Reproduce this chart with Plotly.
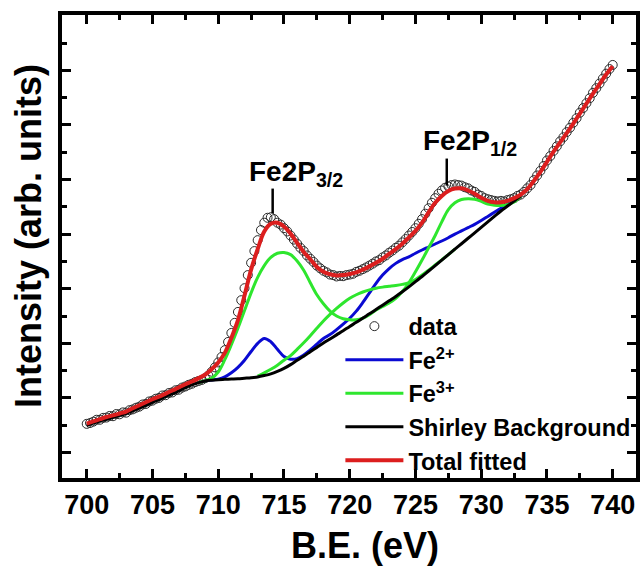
import numpy as np
import plotly.graph_objects as go

# ---------------- data ----------------
# measured data points, B.E. from 700 to 740 eV every 0.25 eV
data_be = np.round(np.arange(700.0, 740.001, 0.25), 2)
data_int = [
    2.05, 2.08, 2.13, 2.20, 2.20, 2.27, 2.28, 2.34,
    2.33, 2.41, 2.40, 2.47, 2.46, 2.55, 2.58, 2.64,
    2.68, 2.76, 2.78, 2.87, 2.90, 2.97, 3.00, 3.09,
    3.10, 3.18, 3.20, 3.28, 3.30, 3.38, 3.42, 3.48,
    3.52, 3.58, 3.62, 3.66, 3.72, 3.82, 3.96, 4.12,
    4.30, 4.50, 4.75, 5.05, 5.38, 5.75, 6.15, 6.58,
    7.02, 7.50, 7.95, 8.38, 8.78, 9.15, 9.42, 9.60,
    9.62, 9.55, 9.42, 9.35, 9.22, 9.10, 8.95, 8.80,
    8.65, 8.50, 8.38, 8.22, 8.10, 7.98, 7.85, 7.75,
    7.66, 7.60, 7.52, 7.50, 7.45, 7.47, 7.46, 7.50,
    7.52, 7.55, 7.62, 7.66, 7.72, 7.78, 7.85, 7.92,
    8.00, 8.05, 8.15, 8.22, 8.32, 8.40, 8.50, 8.58,
    8.70, 8.82, 8.95, 9.08, 9.22, 9.38, 9.55, 9.75,
    9.95, 10.15, 10.32, 10.48, 10.60, 10.70, 10.75, 10.80,
    10.82, 10.80, 10.78, 10.72, 10.68, 10.60, 10.55, 10.45,
    10.40, 10.32, 10.28, 10.25, 10.22, 10.20, 10.22, 10.20,
    10.25, 10.28, 10.32, 10.40, 10.45, 10.55, 10.68, 10.80,
    10.98, 11.15, 11.32, 11.50, 11.70, 11.86, 12.05, 12.22,
    12.40, 12.55, 12.74, 12.90, 13.08, 13.25, 13.45, 13.62,
    13.80, 13.98, 14.18, 14.35, 14.52, 14.70, 14.88, 15.05,
    15.20,
]

# total fitted envelope, 700..740 every 0.5 eV
fit_be = np.round(np.arange(700.0, 740.001, 0.5), 2)
total_fit = [
    2.06, 2.14, 2.22, 2.30, 2.36, 2.43, 2.50, 2.62,
    2.73, 2.84, 2.95, 3.05, 3.16, 3.27, 3.38, 3.50,
    3.60, 3.72, 3.85, 4.05, 4.30, 4.65, 5.20, 5.85,
    6.75, 7.70, 8.45, 9.10, 9.38, 9.42, 9.28, 9.02,
    8.68, 8.35, 8.08, 7.80, 7.62, 7.53, 7.49, 7.50,
    7.54, 7.60, 7.70, 7.82, 7.95, 8.10, 8.28, 8.45,
    8.65, 8.88, 9.12, 9.42, 9.80, 10.15, 10.40, 10.58,
    10.67, 10.68, 10.60, 10.48, 10.33, 10.22, 10.17, 10.17,
    10.22, 10.32, 10.45, 10.65, 10.95, 11.28, 11.65, 12.02,
    12.36, 12.70, 13.05, 13.42, 13.78, 14.15, 14.50, 14.85,
    15.15,
]

# Shirley background, 700..733 every 0.5 eV
shirley_be = np.round(np.arange(700.0, 733.001, 0.5), 2)
shirley = [
    2.00, 2.08, 2.15, 2.22, 2.29, 2.36, 2.43, 2.53,
    2.63, 2.73, 2.84, 2.94, 3.05, 3.15, 3.26, 3.38,
    3.48, 3.56, 3.62, 3.65, 3.67, 3.68, 3.69, 3.70,
    3.72, 3.74, 3.77, 3.82, 3.88, 3.97, 4.08, 4.22,
    4.38, 4.53, 4.69, 4.85, 5.01, 5.16, 5.31, 5.46,
    5.62, 5.77, 5.93, 6.08, 6.24, 6.40, 6.56, 6.72,
    6.89, 7.07, 7.26, 7.45, 7.65, 7.85, 8.05, 8.25,
    8.45, 8.65, 8.85, 9.05, 9.25, 9.45, 9.65, 9.85,
    10.03, 10.21, 10.40,
]

# Fe2+ component, 709..733 every 0.5 eV
fe2_be = np.round(np.arange(709.0, 733.001, 0.5), 2)
fe2 = [
    3.63, 3.66, 3.69, 3.77, 3.92, 4.12, 4.38, 4.70,
    5.00, 5.18, 5.06, 4.78, 4.52, 4.42, 4.44, 4.57,
    4.76, 4.97, 5.18, 5.32, 5.50, 5.70, 5.92, 6.18,
    6.50, 6.85, 7.20, 7.50, 7.74, 7.93, 8.07, 8.17,
    8.30, 8.42, 8.53, 8.64, 8.75, 8.87, 9.00, 9.12,
    9.24, 9.36, 9.50, 9.65, 9.80, 9.95, 10.10, 10.26,
    10.42,
]

# Fe3+ component (main 2p3/2 + 2p1/2 curve), 708.5..733 every 0.5 eV
fe3a_be = np.round(np.arange(708.5, 733.001, 0.5), 2)
fe3a = [
    3.56, 3.63, 3.72, 3.95, 4.40, 4.95, 5.55, 6.20,
    6.85, 7.42, 7.85, 8.15, 8.30, 8.33, 8.25, 8.02,
    7.68, 7.22, 6.78, 6.45, 6.18, 6.00, 5.90, 5.86,
    5.86, 5.92, 6.05, 6.22, 6.35, 6.48, 6.65, 6.90,
    7.22, 7.62, 8.05, 8.50, 8.95, 9.45, 9.90, 10.15,
    10.27, 10.30, 10.28, 10.20, 10.10, 10.06, 10.05, 10.08,
    10.18, 10.40,
]

# Fe3+ component (second curve), 713..728 every 0.5 eV
fe3b_be = np.round(np.arange(713.0, 728.001, 0.5), 2)
fe3b = [
    3.80, 3.92, 4.05, 4.20, 4.38, 4.55, 4.78, 5.02,
    5.28, 5.55, 5.82, 6.06, 6.28, 6.48, 6.65, 6.78,
    6.88, 6.96, 7.02, 7.06, 7.09, 7.12, 7.16, 7.22,
    7.34, 7.50, 7.68, 7.87, 8.06, 8.25, 8.45,
]

x_ticks = [700, 705, 710, 715, 720, 725, 730, 735, 740]

# peak labels: text, text anchor (x, y), marker line (x, y0, y1)
peak_text = ["Fe2P<sub>3/2</sub>", "Fe2P<sub>1/2</sub>"]
peak_text_x = [712.2, 725.4]
peak_text_y = [11.22, 12.37]
peak_line_x = [714.14, 727.38]
peak_line_y0 = [9.76, 10.78]
peak_line_y1 = [10.67, 11.77]

# ---------------- styling ----------------
FONT = "Liberation Sans, Arial, Helvetica, sans-serif"
RED = "#dc1e1e"
GREEN = "#2ee62e"
BLUE = "#0a0ad2"
BLACK = "#000000"

W, H = 640, 566
L, R, T, B = 62, 4, 15, 88
pw, ph = W - L - R, H - T - B

fig = go.Figure()

fig.add_trace(go.Scatter(
    x=data_be, y=data_int, mode="markers", name="data",
    marker=dict(symbol="circle-open", size=9, color="#2a2a2a", line=dict(width=1)),
    legendgroup="g1",
))
fig.add_trace(go.Scatter(
    x=fe2_be, y=fe2, mode="lines", name="Fe<sup>2+</sup>",
    line=dict(color=BLUE, width=3, shape="spline"), legendgroup="g2",
))
fig.add_trace(go.Scatter(
    x=fe3a_be, y=fe3a, mode="lines", name="Fe<sup>3+</sup>",
    line=dict(color=GREEN, width=3, shape="spline"), legendgroup="g3",
))
fig.add_trace(go.Scatter(
    x=fe3b_be, y=fe3b, mode="lines", name="Fe<sup>3+</sup>",
    line=dict(color=GREEN, width=3, shape="spline"), legendgroup="g3",
    showlegend=False,
))
fig.add_trace(go.Scatter(
    x=shirley_be, y=shirley, mode="lines", name="Shirley Background",
    line=dict(color=BLACK, width=3, shape="spline"), legendgroup="g4",
))
fig.add_trace(go.Scatter(
    x=fit_be, y=total_fit, mode="lines", name="Total fitted",
    line=dict(color=RED, width=4, shape="spline"), legendgroup="g5",
))

for t, tx, ty in zip(peak_text, peak_text_x, peak_text_y):
    fig.add_annotation(
        x=tx, y=ty, xref="x", yref="y", text=t, showarrow=False,
        xanchor="left", yanchor="middle",
        font=dict(family=FONT, size=28, color="black", weight="bold"),
    )
for lx, y0, y1 in zip(peak_line_x, peak_line_y0, peak_line_y1):
    fig.add_shape(type="line", xref="x", yref="y", x0=lx, x1=lx, y0=y0, y1=y1,
                  line=dict(color="black", width=2.5))

# axis titles (placed as in the reference, slightly off-centre), pixel -> paper
xt_px, yt_px = (365, 545), (28, 236)
fig.add_annotation(
    x=(xt_px[0] - L) / pw, y=(H - B - xt_px[1]) / ph, xref="paper", yref="paper",
    xanchor="center", yanchor="middle",
    text="B.E. (eV)", showarrow=False,
    font=dict(family=FONT, size=36, color="black", weight="bold"),
)
fig.add_annotation(
    x=(yt_px[0] - L) / pw, y=(H - B - yt_px[1]) / ph, xref="paper", yref="paper",
    xanchor="center", yanchor="middle",
    text="Intensity (arb. units)", showarrow=False, textangle=-90,
    font=dict(family=FONT, size=36, color="black", weight="bold"),
)

fig.update_layout(
    width=W, height=H,
    margin=dict(l=L, r=R, t=T, b=B),
    paper_bgcolor="white", plot_bgcolor="white",
    font=dict(family=FONT, color="black"),
    showlegend=True,
    legend=dict(
        x=0.485, y=0.375, xanchor="left", yanchor="top",
        bgcolor="rgba(0,0,0,0)", borderwidth=0,
        font=dict(family=FONT, size=23.5, color="black", weight="bold"),
        itemwidth=58, tracegroupgap=0, traceorder="normal",
    ),
)

fig.update_xaxes(
    range=[698.12, 741.77], tickmode="array", tickvals=x_ticks,
    ticktext=[str(v) for v in x_ticks],
    ticks="inside", ticklen=9, tickwidth=3, tickcolor="black",
    minor=dict(ticks="inside", ticklen=5, tickwidth=3, dtick=2.5, tick0=700, tickcolor="black"),
    showline=True, linewidth=4, linecolor="black", mirror="ticks",
    showgrid=False, zeroline=False,
    tickfont=dict(family=FONT, size=27, color="black", weight="bold"),
    automargin=False,
)
fig.update_yaxes(
    range=[0.066, 17.03], tick0=1, dtick=2, showticklabels=False,
    ticks="inside", ticklen=9, tickwidth=3, tickcolor="black",
    minor=dict(ticks="inside", ticklen=5, tickwidth=3, dtick=1, tick0=0, tickcolor="black"),
    showline=True, linewidth=4, linecolor="black", mirror="ticks",
    showgrid=False, zeroline=False,
    automargin=False,
)

fig.write_html(
    "out.html",
    config={"displayModeBar": False},
    post_script="document.body.style.margin='0';document.body.style.padding='0';",
)
